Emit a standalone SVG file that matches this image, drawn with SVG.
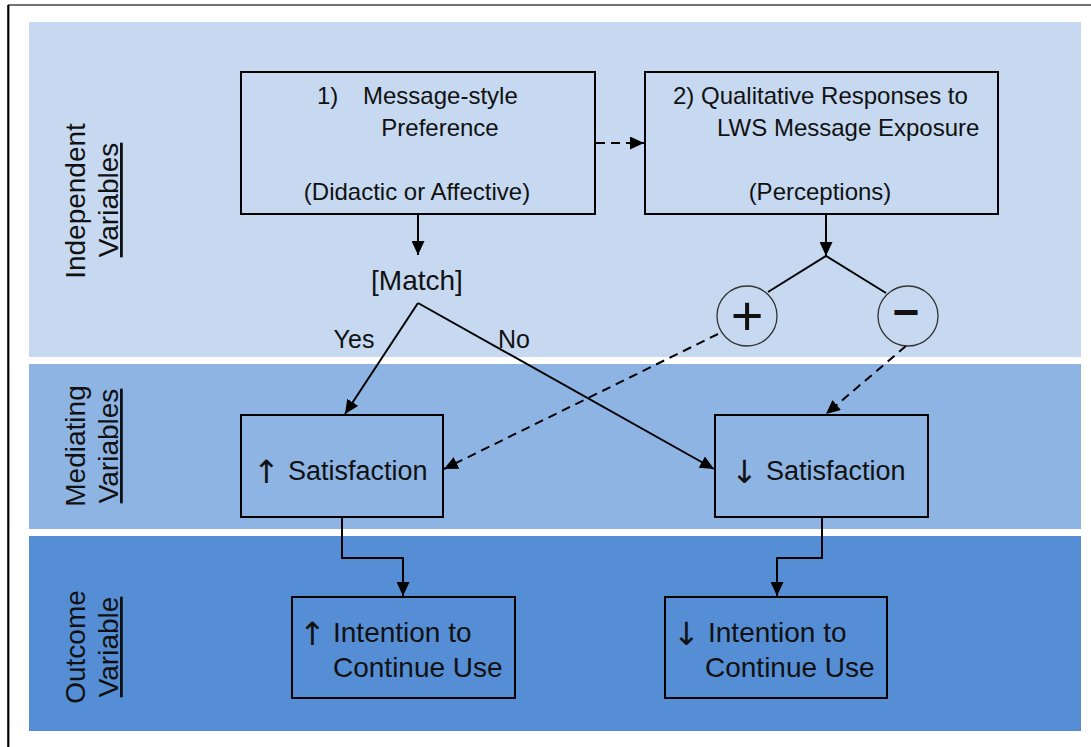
<svg xmlns="http://www.w3.org/2000/svg" width="1091" height="747" viewBox="0 0 1091 747">
  <style>
    .lbl { font-family: "Liberation Sans", Arial, sans-serif; fill: #111; }
    .arr { font-family: "DejaVu Sans", "Liberation Sans", sans-serif; fill: #111; font-size: 32px; }
    .box { fill: none; stroke: #000; stroke-width: 2; }
    .conn { fill: none; stroke: #000; stroke-width: 2; }
    .dash { stroke-dasharray: 9 6; }
    .side { font-size: 28px; }
    .ul { text-decoration: underline; }
  </style>
  <defs>
    <marker id="arrow" markerUnits="userSpaceOnUse" markerWidth="14" markerHeight="13" refX="14" refY="6.5" orient="auto">
      <path d="M0,0 L14,6.5 L0,13 z" fill="#000"/>
    </marker>
  </defs>

  <rect width="1091" height="747" fill="#fff"/>
  <!-- page frame -->
  <line x1="8" y1="5" x2="1091" y2="5" stroke="#444" stroke-width="1.5"/>
  <line x1="8.3" y1="5" x2="8.3" y2="747" stroke="#000" stroke-width="2.2"/>

  <!-- variable bands -->
  <g id="band-independent">
    <rect x="29" y="22" width="1052" height="335" fill="#C6D9F1"/>
    <text class="lbl side" transform="translate(85,201) rotate(-90)" text-anchor="middle">Independent</text>
    <text class="lbl side ul" transform="translate(118,200) rotate(-90)" text-anchor="middle">Variables</text>
  </g>
  <g id="band-mediating">
    <rect x="29" y="364" width="1052" height="165" fill="#8EB4E3"/>
    <text class="lbl side" transform="translate(85,446) rotate(-90)" text-anchor="middle">Mediating</text>
    <text class="lbl side ul" transform="translate(118,446) rotate(-90)" text-anchor="middle">Variables</text>
  </g>
  <g id="band-outcome">
    <rect x="29" y="536" width="1052" height="195" fill="#558ED5"/>
    <text class="lbl side" transform="translate(85,647) rotate(-90)" text-anchor="middle">Outcome</text>
    <text class="lbl side ul" transform="translate(118,647) rotate(-90)" text-anchor="middle">Variable</text>
  </g>

  <!-- connectors -->
  <g id="connectors">
    <line class="conn dash" x1="596" y1="143" x2="644" y2="143" marker-end="url(#arrow)"/>
    <line class="conn" x1="418" y1="214" x2="418" y2="255" marker-end="url(#arrow)"/>
    <line class="conn" x1="826" y1="214" x2="826" y2="256" marker-end="url(#arrow)"/>
    <polyline class="conn" points="768,292 826,256 886,293"/>
    <line class="conn" x1="418" y1="303" x2="345" y2="414" marker-end="url(#arrow)"/>
    <line class="conn" x1="418" y1="303" x2="714" y2="469" marker-end="url(#arrow)"/>
    <line class="conn dash" x1="718" y1="334" x2="444" y2="469" marker-end="url(#arrow)"/>
    <line class="conn dash" x1="906" y1="346" x2="826" y2="414" marker-end="url(#arrow)"/>
    <polyline class="conn" points="342,517 342,558 403,558 403,596" marker-end="url(#arrow)"/>
    <polyline class="conn" points="822,517 822,558 777,558 777,596" marker-end="url(#arrow)"/>
    <text class="lbl" x="354" y="348" font-size="25" text-anchor="middle">Yes</text>
    <text class="lbl" x="514" y="348" font-size="25" text-anchor="middle">No</text>
  </g>

  <g id="node-message-style">
    <rect class="box" x="241" y="72" width="354" height="142"/>
    <text class="lbl" x="317" y="104" font-size="24">1)</text>
    <text class="lbl" x="363" y="104" font-size="24">Message-style</text>
    <text class="lbl" x="440" y="136" font-size="24" text-anchor="middle">Preference</text>
    <text class="lbl" x="417" y="200" font-size="24" text-anchor="middle">(Didactic or Affective)</text>
  </g>

  <g id="node-qualitative">
    <rect class="box" x="645" y="72" width="353" height="142"/>
    <text class="lbl" x="673" y="104" font-size="24">2) Qualitative Responses to</text>
    <text class="lbl" x="717" y="136" font-size="24">LWS Message Exposure</text>
    <text class="lbl" x="820" y="200" font-size="24" text-anchor="middle">(Perceptions)</text>
  </g>

  <g id="node-match">
    <text class="lbl" x="417" y="290" font-size="28" text-anchor="middle">[Match]</text>
  </g>

  <g id="node-positive">
    <circle cx="747" cy="316" r="30" fill="none" stroke="#333" stroke-width="1.3"/>
    <text class="lbl" x="747" y="335" font-size="56" text-anchor="middle">+</text>
  </g>

  <g id="node-negative">
    <circle cx="908" cy="316" r="30" fill="none" stroke="#333" stroke-width="1.3"/>
    <text class="lbl" x="906" y="328" font-size="46" font-weight="bold" text-anchor="middle">−</text>
  </g>

  <g id="node-satisfaction-up">
    <rect class="box" x="241" y="415" width="202" height="102"/>
    <text class="arr" x="253" y="483">↑</text>
    <text class="lbl" x="288" y="480" font-size="27">Satisfaction</text>
  </g>

  <g id="node-satisfaction-down">
    <rect class="box" x="715" y="415" width="213" height="102"/>
    <text class="arr" x="731" y="483">↓</text>
    <text class="lbl" x="766" y="480" font-size="27">Satisfaction</text>
  </g>

  <g id="node-intention-up">
    <rect class="box" x="292" y="597" width="223" height="101"/>
    <text class="arr" x="299" y="645">↑</text>
    <text class="lbl" x="333" y="642" font-size="28">Intention to</text>
    <text class="lbl" x="333" y="677" font-size="28">Continue Use</text>
  </g>

  <g id="node-intention-down">
    <rect class="box" x="665" y="597" width="222" height="101"/>
    <text class="arr" x="673" y="645">↓</text>
    <text class="lbl" x="708" y="642" font-size="28">Intention to</text>
    <text class="lbl" x="705" y="677" font-size="28">Continue Use</text>
  </g>
</svg>
